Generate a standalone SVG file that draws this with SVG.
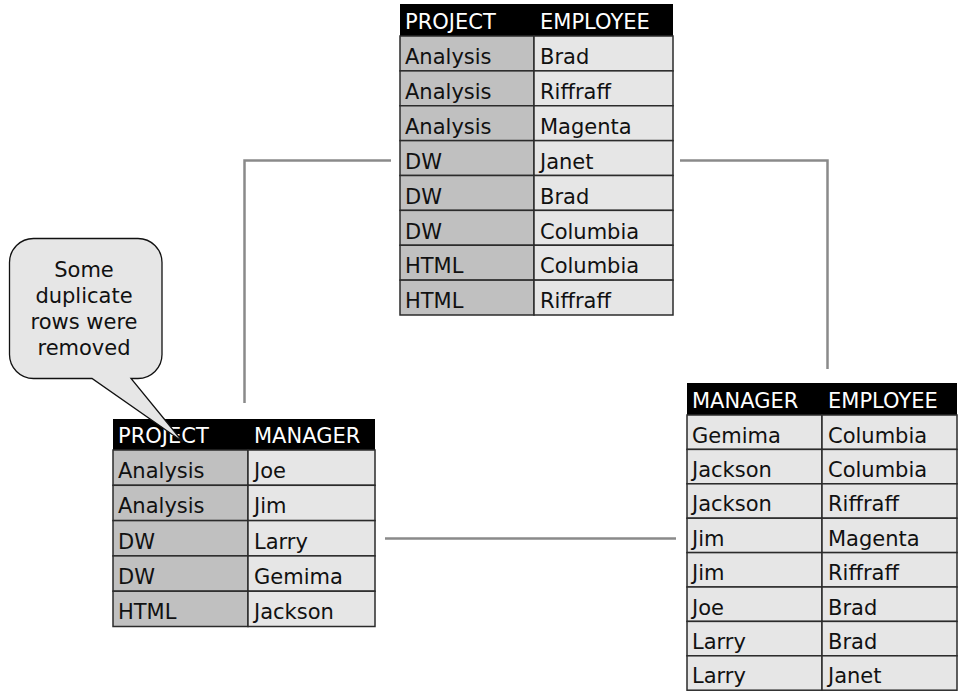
<svg xmlns="http://www.w3.org/2000/svg" width="958" height="691" viewBox="0 0 958 691">
<style>
text{font-family:"DejaVu Sans","Liberation Sans",sans-serif;font-size:21px;fill:#111}
.hd{fill:#000}
.ht{fill:#fff}
.dk{fill:#c0c0c0;stroke:#2b2b2b;stroke-width:1.5}
.lt{fill:#e6e6e6;stroke:#2b2b2b;stroke-width:1.5}
.con{fill:none;stroke:#8a8a8a;stroke-width:2.5}
.call{fill:#e6e6e6;stroke:#111;stroke-width:1.3}
.ct{text-anchor:middle}
</style>
<rect width="958" height="691" fill="#fff"/>
<g id="connectors">
<path class="con" d="M391 160.5 H244.5 V403"/>
<path class="con" d="M680 160.5 H827.5 V369"/>
<path class="con" d="M385 538.5 H676"/>
</g>
<g id="project-employee">
<rect class="hd" x="400" y="4" width="273" height="32"/>
<text class="ht" x="405" y="29">PROJECT</text><text class="ht" x="540" y="29">EMPLOYEE</text>
<rect class="dk" x="400" y="36" width="134" height="34.875"/><rect class="lt" x="534" y="36" width="139" height="34.875"/>
<rect class="dk" x="400" y="70.875" width="134" height="34.875"/><rect class="lt" x="534" y="70.875" width="139" height="34.875"/>
<rect class="dk" x="400" y="105.75" width="134" height="34.875"/><rect class="lt" x="534" y="105.75" width="139" height="34.875"/>
<rect class="dk" x="400" y="140.625" width="134" height="34.875"/><rect class="lt" x="534" y="140.625" width="139" height="34.875"/>
<rect class="dk" x="400" y="175.5" width="134" height="34.875"/><rect class="lt" x="534" y="175.5" width="139" height="34.875"/>
<rect class="dk" x="400" y="210.375" width="134" height="34.875"/><rect class="lt" x="534" y="210.375" width="139" height="34.875"/>
<rect class="dk" x="400" y="245.25" width="134" height="34.875"/><rect class="lt" x="534" y="245.25" width="139" height="34.875"/>
<rect class="dk" x="400" y="280.125" width="134" height="34.875"/><rect class="lt" x="534" y="280.125" width="139" height="34.875"/>
<text x="405" y="64">Analysis</text><text x="540" y="64">Brad</text>
<text x="405" y="99">Analysis</text><text x="540" y="99">Riffraff</text>
<text x="405" y="134">Analysis</text><text x="540" y="134">Magenta</text>
<text x="405" y="168.5">DW</text><text x="540" y="168.5">Janet</text>
<text x="405" y="203.5">DW</text><text x="540" y="203.5">Brad</text>
<text x="405" y="238.5">DW</text><text x="540" y="238.5">Columbia</text>
<text x="405" y="273">HTML</text><text x="540" y="273">Columbia</text>
<text x="405" y="308">HTML</text><text x="540" y="308">Riffraff</text>
</g>
<g id="project-manager">
<rect class="hd" x="113" y="419" width="262" height="31"/>
<text class="ht" x="118" y="443">PROJECT</text><text class="ht" x="254" y="443">MANAGER</text>
<rect class="dk" x="113" y="450" width="135" height="35.3"/><rect class="lt" x="248" y="450" width="127" height="35.3"/>
<rect class="dk" x="113" y="485.3" width="135" height="35.3"/><rect class="lt" x="248" y="485.3" width="127" height="35.3"/>
<rect class="dk" x="113" y="520.6" width="135" height="35.3"/><rect class="lt" x="248" y="520.6" width="127" height="35.3"/>
<rect class="dk" x="113" y="555.9" width="135" height="35.3"/><rect class="lt" x="248" y="555.9" width="127" height="35.3"/>
<rect class="dk" x="113" y="591.2" width="135" height="35.3"/><rect class="lt" x="248" y="591.2" width="127" height="35.3"/>
<text x="118" y="478">Analysis</text><text x="254" y="478">Joe</text>
<text x="118" y="513.3">Analysis</text><text x="254" y="513.3">Jim</text>
<text x="118" y="548.6">DW</text><text x="254" y="548.6">Larry</text>
<text x="118" y="583.9">DW</text><text x="254" y="583.9">Gemima</text>
<text x="118" y="619.2">HTML</text><text x="254" y="619.2">Jackson</text>
</g>
<g id="manager-employee">
<rect class="hd" x="687" y="383" width="270" height="32"/>
<text class="ht" x="692" y="408">MANAGER</text><text class="ht" x="828" y="408">EMPLOYEE</text>
<rect class="lt" x="687" y="415" width="135" height="34.4"/><rect class="lt" x="822" y="415" width="135" height="34.4"/>
<rect class="lt" x="687" y="449.4" width="135" height="34.4"/><rect class="lt" x="822" y="449.4" width="135" height="34.4"/>
<rect class="lt" x="687" y="483.8" width="135" height="34.4"/><rect class="lt" x="822" y="483.8" width="135" height="34.4"/>
<rect class="lt" x="687" y="518.2" width="135" height="34.4"/><rect class="lt" x="822" y="518.2" width="135" height="34.4"/>
<rect class="lt" x="687" y="552.6" width="135" height="34.4"/><rect class="lt" x="822" y="552.6" width="135" height="34.4"/>
<rect class="lt" x="687" y="587" width="135" height="34.4"/><rect class="lt" x="822" y="587" width="135" height="34.4"/>
<rect class="lt" x="687" y="621.4" width="135" height="34.4"/><rect class="lt" x="822" y="621.4" width="135" height="34.4"/>
<rect class="lt" x="687" y="655.8" width="135" height="34.4"/><rect class="lt" x="822" y="655.8" width="135" height="34.4"/>
<text x="692" y="442.5">Gemima</text><text x="828" y="442.5">Columbia</text>
<text x="692" y="477">Jackson</text><text x="828" y="477">Columbia</text>
<text x="692" y="511.3">Jackson</text><text x="828" y="511.3">Riffraff</text>
<text x="692" y="545.7">Jim</text><text x="828" y="545.7">Magenta</text>
<text x="692" y="580">Jim</text><text x="828" y="580">Riffraff</text>
<text x="692" y="614.5">Joe</text><text x="828" y="614.5">Brad</text>
<text x="692" y="649">Larry</text><text x="828" y="649">Brad</text>
<text x="692" y="683.3">Larry</text><text x="828" y="683.3">Janet</text>
</g>
<g id="callout">
<path class="call" d="M33.5 238.5 H138 A24 24 0 0 1 162 262.5 V354.5 A24 24 0 0 1 138 378.5 H131 L183 442 L92 378.5 H33.5 A24 24 0 0 1 9.5 354.5 V262.5 A24 24 0 0 1 33.5 238.5 Z"/>
<text class="ct" x="84" y="277">Some</text>
<text class="ct" x="84" y="303">duplicate</text>
<text class="ct" x="84" y="329">rows were</text>
<text class="ct" x="84" y="355">removed</text>
</g>
</svg>
